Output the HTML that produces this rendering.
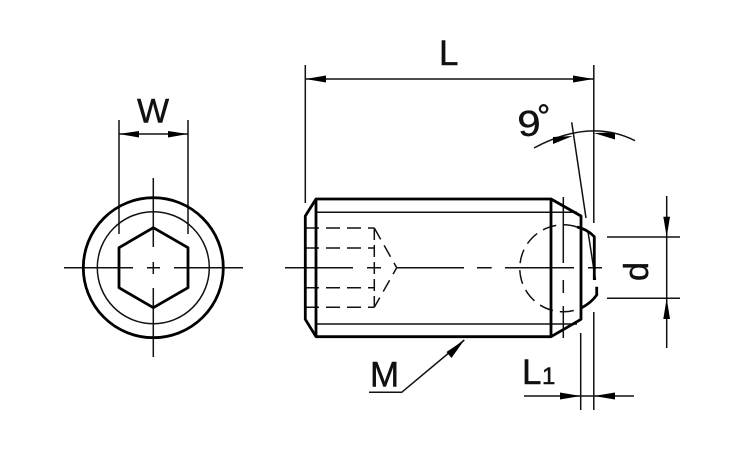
<!DOCTYPE html>
<html><head><meta charset="utf-8"><style>html,body{margin:0;padding:0;background:#fff}svg{display:block}text{font-family:"Liberation Sans",sans-serif;fill:#111;stroke:#111;stroke-width:.45}</style></head>
<body><svg width="750" height="450" viewBox="0 0 750 450" xmlns="http://www.w3.org/2000/svg">
<rect width="750" height="450" fill="#fff"/>
<g fill="none" stroke="#111" stroke-width="1.5">
<!-- left view thin -->
<circle cx="153.3" cy="267.7" r="56"/>
<path d="M119 120V234M188 120V234M119 134H188"/>
<path d="M153.3 178V247M153.3 262V274M153.3 288V357M64 267.7H133M147 267.7H160M174 267.7H243"/>
<!-- dims -->
<path d="M305.3 65V203M593.8 65V223M593.8 312V410M580.7 333V410M305 79H594"/>
<path d="M524 396H634M607 237H680M607 298.3H680M666.7 196V348"/>
<path d="M369 392.3H401.7L464.3 340"/>
<path d="M571.7 122.3L586 218M534 148Q590 118 635 140.7"/>
<!-- body thin -->
<path d="M305 228H374.3M305 248H374.3M305 287.7H374.3M305 307.3H374.3" stroke-dasharray="14 7"/>
<path d="M316 212.3H577M316 324H577"/>
<path d="M374.3 228V307.3" stroke-dasharray="12 5"/>
<path d="M374.3 228L396.7 267.7L374.3 307.3" stroke-dasharray="13 7"/>
<path d="M285 267.7H353M367 267.7H381M397 267.7H464M477 267.7H491.7M505 267.7H574M588 267.7H602"/>
<path d="M563.3 197V263M563.3 280V293M563.3 306V338"/>
<path d="M577 227A43.5 43.5 0 1 0 581.7 307.7" stroke-dasharray="14 7"/>
<path d="M588 231.7L595.5 280"/>
</g>
<g fill="none" stroke="#000" stroke-width="2.8" stroke-linejoin="round">
<circle cx="153.3" cy="267.7" r="70"/>
<path d="M153.3 227.7L188 247.7V287.7L153.3 307.7L119 287.7V247.7Z"/>
<path d="M305.3 216L316 199H551L581 216V319.3L551 336.7H316L305.3 319.3Z"/>
<path d="M316 199V336.7M551 199V336.7"/>
<path d="M577 227Q587 229 594.3 236.7V280M596.7 286.7V295Q591 303 581.7 307.7"/>
</g>
<g fill="#000">
<path d="M119 134L139 131V137.5ZM188 134L168 131V137.5Z"/>
<path d="M305.5 79L326 75.5V82.5ZM593.5 79L573 75.5V82.5Z"/>
<path d="M666.7 237L663.3 216.7H670ZM666.7 298.3L663.3 319H670Z"/>
<path d="M580.7 396L560 392.5V399.5ZM594 396L615 392.5V399.5Z"/>
<path d="M464.3 340L451.5 358L446.5 352Z"/>
<path d="M572.7 136L553 137V144ZM593.8 133L615 132.5V139.5Z"/>
</g>
<text x="439" y="65" font-size="35">L</text>
<text x="137" y="122.7" font-size="34">W</text>
<text x="370" y="386.7" font-size="35">M</text>
<text x="522" y="384" font-size="35">L</text>
<text x="542" y="384" font-size="24">1</text>
<text transform="translate(518.5 136.5) rotate(-4) scale(1.15 1)" font-size="36">9</text>
<text x="537" y="127.5" font-size="33">°</text>
<text transform="translate(648 281) rotate(-90)" font-size="34">d</text>
</svg></body></html>
